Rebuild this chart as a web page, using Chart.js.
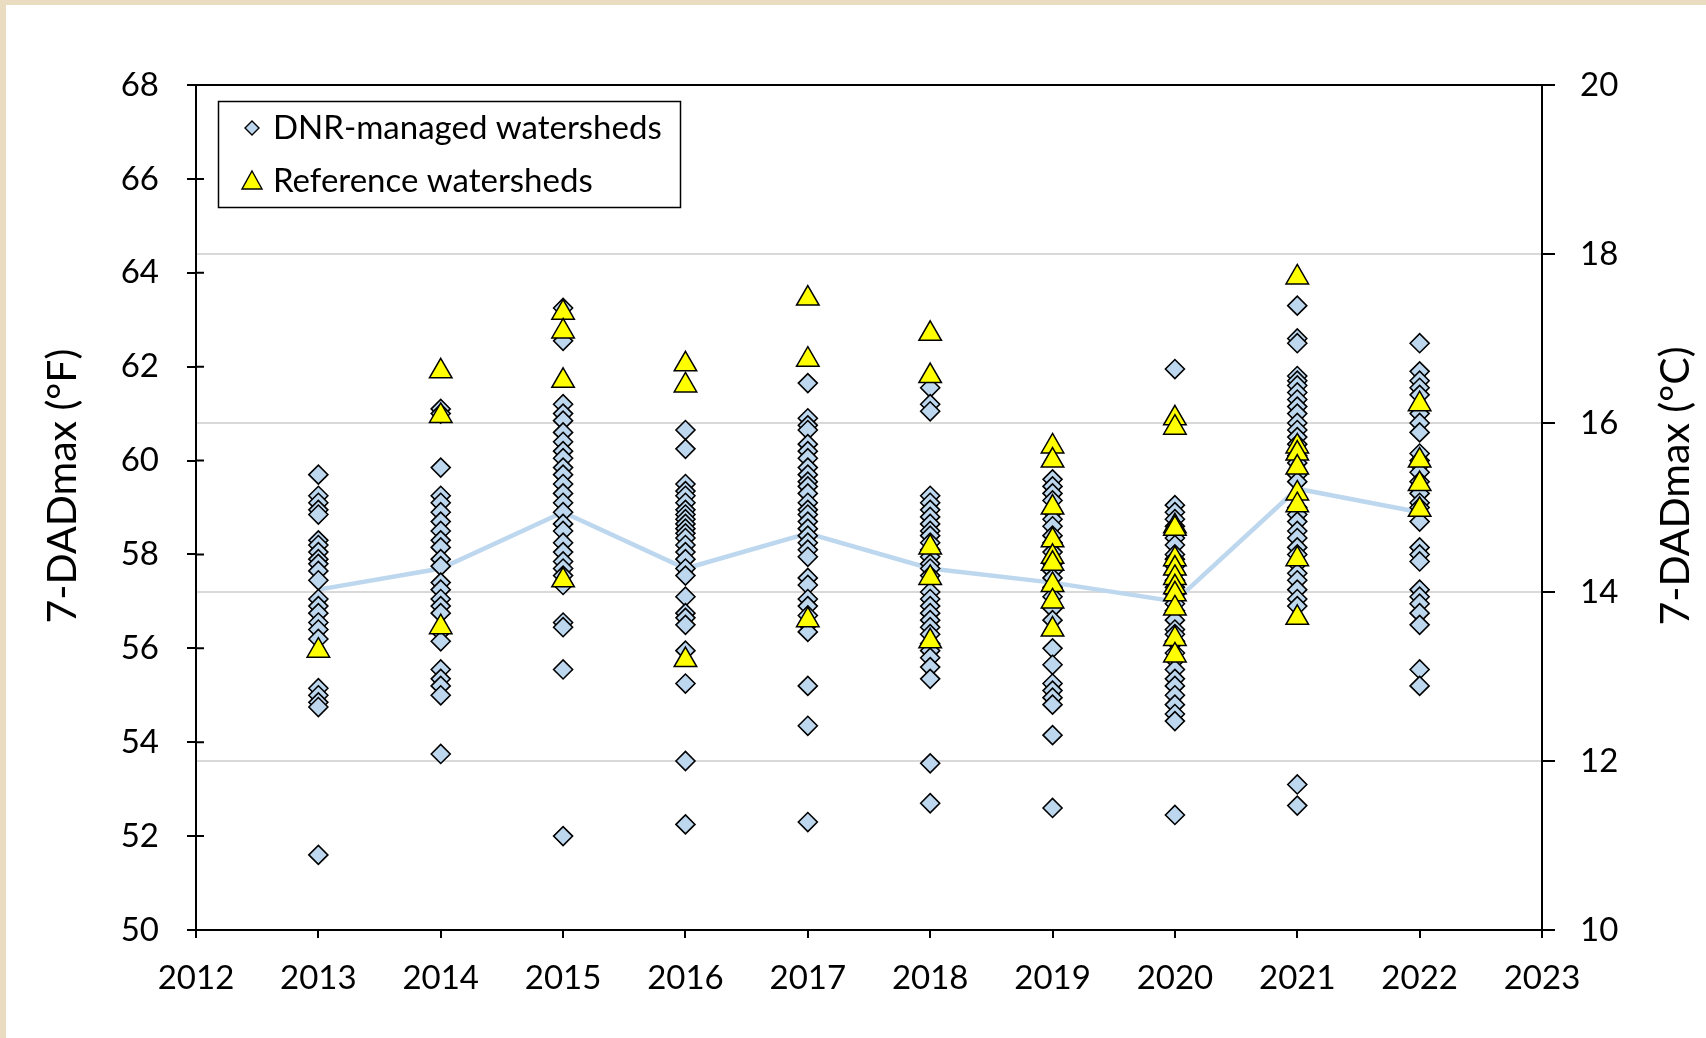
<!DOCTYPE html>
<html>
<head>
<meta charset="utf-8">
<title>7-DADmax by year</title>
<script src="https://cdn.jsdelivr.net/npm/chart.js@4.4.1/dist/chart.umd.min.js"></script>
<style>
  html, body { margin: 0; padding: 0; background: #fff; }
</style>
</head>
<body>
<canvas id="tempChart" width="1706" height="1038"></canvas>
<script>
// years on the x axis
const years = [2013, 2014, 2015, 2016, 2017, 2018, 2019, 2020, 2021, 2022];

// 7-DADmax (F) at DNR-managed sites, one list per year
const dnr2013 = [59.7, 59.25, 59.1, 58.95, 58.85, 58.3, 58.2, 58.05, 57.9, 57.8, 57.65, 57.45, 57.05, 56.9, 56.75, 56.55, 56.4, 56.2, 55.15, 55.0, 54.85, 54.75, 51.6];
const dnr2014 = [61.1, 61.0, 59.85, 59.25, 59.1, 58.9, 58.7, 58.5, 58.3, 58.15, 57.9, 57.75, 57.4, 57.25, 57.05, 56.9, 56.75, 56.35, 56.15, 55.55, 55.35, 55.2, 55.0, 53.75];
const dnr2015 = [63.25, 62.55, 61.2, 61.0, 60.85, 60.6, 60.4, 60.2, 60.05, 59.85, 59.7, 59.5, 59.3, 59.1, 58.9, 58.65, 58.5, 58.25, 58.05, 57.85, 57.7, 57.55, 57.35, 56.55, 56.45, 55.55, 52.0];
const dnr2016 = [60.65, 60.25, 59.5, 59.35, 59.25, 59.1, 58.95, 58.85, 58.75, 58.65, 58.55, 58.45, 58.35, 58.2, 58.05, 57.9, 57.7, 57.55, 57.1, 56.75, 56.65, 56.5, 55.95, 55.25, 53.6, 52.25];
const dnr2017 = [61.65, 60.9, 60.75, 60.65, 60.35, 60.2, 60.05, 59.85, 59.7, 59.55, 59.45, 59.3, 59.1, 58.95, 58.85, 58.7, 58.55, 58.4, 58.25, 58.1, 57.95, 57.5, 57.35, 57.05, 56.9, 56.7, 56.5, 56.35, 55.2, 54.35, 52.3];
const dnr2018 = [61.55, 61.2, 61.05, 59.25, 59.1, 58.95, 58.8, 58.65, 58.5, 58.4, 58.25, 58.1, 57.95, 57.8, 57.7, 57.55, 57.2, 57.05, 56.9, 56.75, 56.6, 56.45, 56.3, 56.1, 55.95, 55.8, 55.6, 55.35, 53.55, 52.7];
const dnr2019 = [59.6, 59.45, 59.3, 59.15, 58.9, 58.75, 58.6, 58.4, 58.25, 58.05, 57.8, 57.65, 57.5, 57.3, 57.1, 56.85, 56.6, 56.0, 55.65, 55.25, 55.1, 54.95, 54.8, 54.15, 52.6];
const dnr2020 = [61.95, 59.05, 58.9, 58.75, 58.6, 58.5, 58.35, 58.2, 58.0, 57.9, 57.75, 57.6, 57.45, 57.3, 57.15, 56.95, 56.8, 56.6, 56.4, 56.3, 56.15, 55.9, 55.75, 55.55, 55.35, 55.2, 55.0, 54.8, 54.6, 54.45, 52.45];
const dnr2021 = [63.3, 62.6, 62.5, 61.8, 61.7, 61.6, 61.45, 61.3, 61.15, 61.0, 60.8, 60.65, 60.5, 60.35, 60.1, 59.95, 59.7, 59.55, 59.0, 58.85, 58.7, 58.5, 58.35, 58.15, 58.0, 57.8, 57.6, 57.45, 57.25, 57.05, 56.9, 53.1, 52.65];
const dnr2022 = [62.5, 61.9, 61.7, 61.55, 61.4, 61.0, 60.8, 60.6, 60.15, 60.0, 59.9, 59.75, 59.55, 59.3, 59.1, 59.0, 58.7, 58.15, 58.0, 57.85, 57.25, 57.1, 56.95, 56.75, 56.5, 55.55, 55.2];

// 7-DADmax (F) at reference sites
const ref2013 = [55.95];
const ref2014 = [61.9, 60.95, 56.45];
const ref2015 = [63.15, 62.75, 61.7, 57.45];
const ref2016 = [62.05, 61.6, 55.75];
const ref2017 = [63.45, 62.15, 56.6];
const ref2018 = [62.7, 61.8, 58.15, 57.5, 56.15];
const ref2019 = [60.3, 60.0, 59.0, 58.3, 57.95, 57.8, 57.35, 57.0, 56.4];
const ref2020 = [60.9, 60.7, 58.6, 58.55, 57.9, 57.7, 57.5, 57.3, 57.15, 56.85, 56.2, 55.85];
const ref2021 = [63.9, 60.3, 60.15, 59.85, 59.3, 59.05, 57.9, 56.65];
const ref2022 = [61.2, 60.0, 59.5, 58.95];

// yearly mean of the DNR sites (blue line)
const meanLine = [57.25, 57.7, 58.9, 57.7, 58.45, 57.7, 57.4, 57.0, 59.4, 58.9];

// axis ticks
const fTicks = [50, 52, 54, 56, 58, 60, 62, 64, 66, 68];
const cTicks = [10, 12, 14, 16, 18, 20];

const dnrByYear = [dnr2013, dnr2014, dnr2015, dnr2016, dnr2017, dnr2018, dnr2019, dnr2020, dnr2021, dnr2022];
const refByYear = [ref2013, ref2014, ref2015, ref2016, ref2017, ref2018, ref2019, ref2020, ref2021, ref2022];

function toPoints(groups) {
    const pts = [];
    groups.forEach((vals, i) => vals.forEach(v => pts.push({ x: years[i], y: v })));
    return pts;
}

const FONT = 'Lato, "Open Sans", sans-serif';
const BLUE = '#BDD7EE';

function drawVerticalTitle(ctx, text, x, y) {
    ctx.save();
    ctx.fillStyle = '#000';
    ctx.font = '41px ' + FONT;
    ctx.textAlign = 'center';
    ctx.textBaseline = 'middle';
    ctx.translate(x, y);
    ctx.rotate(-Math.PI / 2);
    ctx.fillText(text, 0, 0);
    ctx.restore();
}

// draws page frame, top border, crossing ticks, axis titles and the boxed legend
const framePlugin = {
    id: 'frame',
    beforeDraw(chart) {
        const ctx = chart.ctx;
        ctx.save();
        ctx.fillStyle = '#EADCC1';
        ctx.fillRect(0, 0, chart.width, chart.height);
        ctx.fillStyle = '#ffffff';
        ctx.fillRect(6, 5, chart.width - 6, chart.height - 5);
        ctx.restore();
    },
    afterDraw(chart) {
        const ctx = chart.ctx;
        const a = chart.chartArea;
        const ys = chart.scales.y;
        ctx.save();
        ctx.strokeStyle = '#000';
        ctx.lineWidth = 2;
        ctx.beginPath();
        ctx.moveTo(a.left, a.top);
        ctx.lineTo(a.right, a.top);
        ys.ticks.forEach(t => {
            const py = ys.getPixelForValue(t.value);
            ctx.moveTo(a.left, py);
            ctx.lineTo(a.left + 8, py);
        });
        ctx.stroke();
        ctx.restore();

        // both axis titles read bottom to top
        drawVerticalTitle(ctx, '7-DADmax (°F)', 63, 486);
        drawVerticalTitle(ctx, '7-DADmax (°C)', 1676, 486);

        // legend
        const ds = chart.data.datasets;
        ctx.save();
        ctx.fillStyle = '#fff';
        ctx.fillRect(218, 101, 462, 106);
        ctx.strokeStyle = '#000';
        ctx.lineWidth = 1.5;
        ctx.strokeRect(218.5, 101.5, 462, 106);

        ctx.lineWidth = 1.4;
        ctx.fillStyle = BLUE;
        ctx.beginPath();
        ctx.moveTo(252 - 7, 128);
        ctx.lineTo(252, 128 - 7);
        ctx.lineTo(252 + 7, 128);
        ctx.lineTo(252, 128 + 7);
        ctx.closePath();
        ctx.fill();
        ctx.stroke();

        ctx.fillStyle = '#FFFF00';
        ctx.beginPath();
        ctx.moveTo(252, 171);
        ctx.lineTo(262, 189);
        ctx.lineTo(242, 189);
        ctx.closePath();
        ctx.fill();
        ctx.stroke();

        ctx.fillStyle = '#000';
        ctx.font = '33px ' + FONT;
        ctx.textAlign = 'left';
        ctx.textBaseline = 'middle';
        ctx.fillText(ds[1].label, 273, 128);
        ctx.fillText(ds[2].label, 273, 181);
        ctx.restore();
    }
};

const tempChart = new Chart(document.getElementById('tempChart'), {
    type: 'scatter',
    data: {
        datasets: [
            {
                label: 'Mean',
                data: years.map((yr, i) => ({ x: yr, y: meanLine[i] })),
                showLine: true,
                borderColor: BLUE,
                borderWidth: 4.5,
                pointRadius: 0,
                order: 3
            },
            {
                label: 'DNR-managed watersheds',
                data: toPoints(dnrByYear),
                pointStyle: 'rectRot',
                pointRadius: 9.5,
                backgroundColor: BLUE,
                borderColor: '#000',
                borderWidth: 1.6,
                order: 2
            },
            {
                label: 'Reference watersheds',
                data: toPoints(refByYear),
                pointStyle: 'triangle',
                pointRadius: 13,
                backgroundColor: '#FFFF00',
                borderColor: '#000',
                borderWidth: 1.5,
                order: 1
            }
        ]
    },
    options: {
        responsive: false,
        animation: false,
        layout: { padding: { top: 85, left: 0, right: 0, bottom: 0 } },
        plugins: {
            legend: { display: false },
            tooltip: { enabled: false }
        },
        scales: {
            x: {
                type: 'linear',
                min: 2012,
                max: 2023,
                afterFit: s => { s.height = 108; },
                ticks: {
                    stepSize: 1,
                    padding: 21,
                    color: '#000',
                    font: { family: FONT, size: 33 },
                    callback: v => String(v)
                },
                grid: { drawOnChartArea: false, tickLength: 8, tickColor: '#000', lineWidth: 2 },
                border: { color: '#000', width: 2 }
            },
            y: {
                position: 'left',
                min: 50,
                max: 68,
                afterBuildTicks: s => { s.ticks = fTicks.map(v => ({ value: v })); },
                afterFit: s => { s.width = 196; },
                ticks: {
                    padding: 28,
                    color: '#000',
                    font: { family: FONT, size: 33 }
                },
                grid: { drawOnChartArea: false, tickLength: 9, tickColor: '#000', lineWidth: 2 },
                border: { color: '#000', width: 2 }
            },
            y2: {
                position: 'right',
                min: 10,
                max: 20,
                afterBuildTicks: s => { s.ticks = cTicks.map(v => ({ value: v })); },
                afterFit: s => { s.width = 164; },
                ticks: {
                    padding: 25,
                    color: '#000',
                    font: { family: FONT, size: 33 }
                },
                grid: {
                    drawOnChartArea: true,
                    color: c => (c.tick && (c.tick.value === 10 || c.tick.value === 20)) ? 'rgba(0,0,0,0)' : '#D9D9D9',
                    lineWidth: 2,
                    tickLength: 13,
                    tickColor: '#000'
                },
                border: { color: '#000', width: 2 }
            }
        }
    },
    plugins: [framePlugin]
});
</script>
</body>
</html>
